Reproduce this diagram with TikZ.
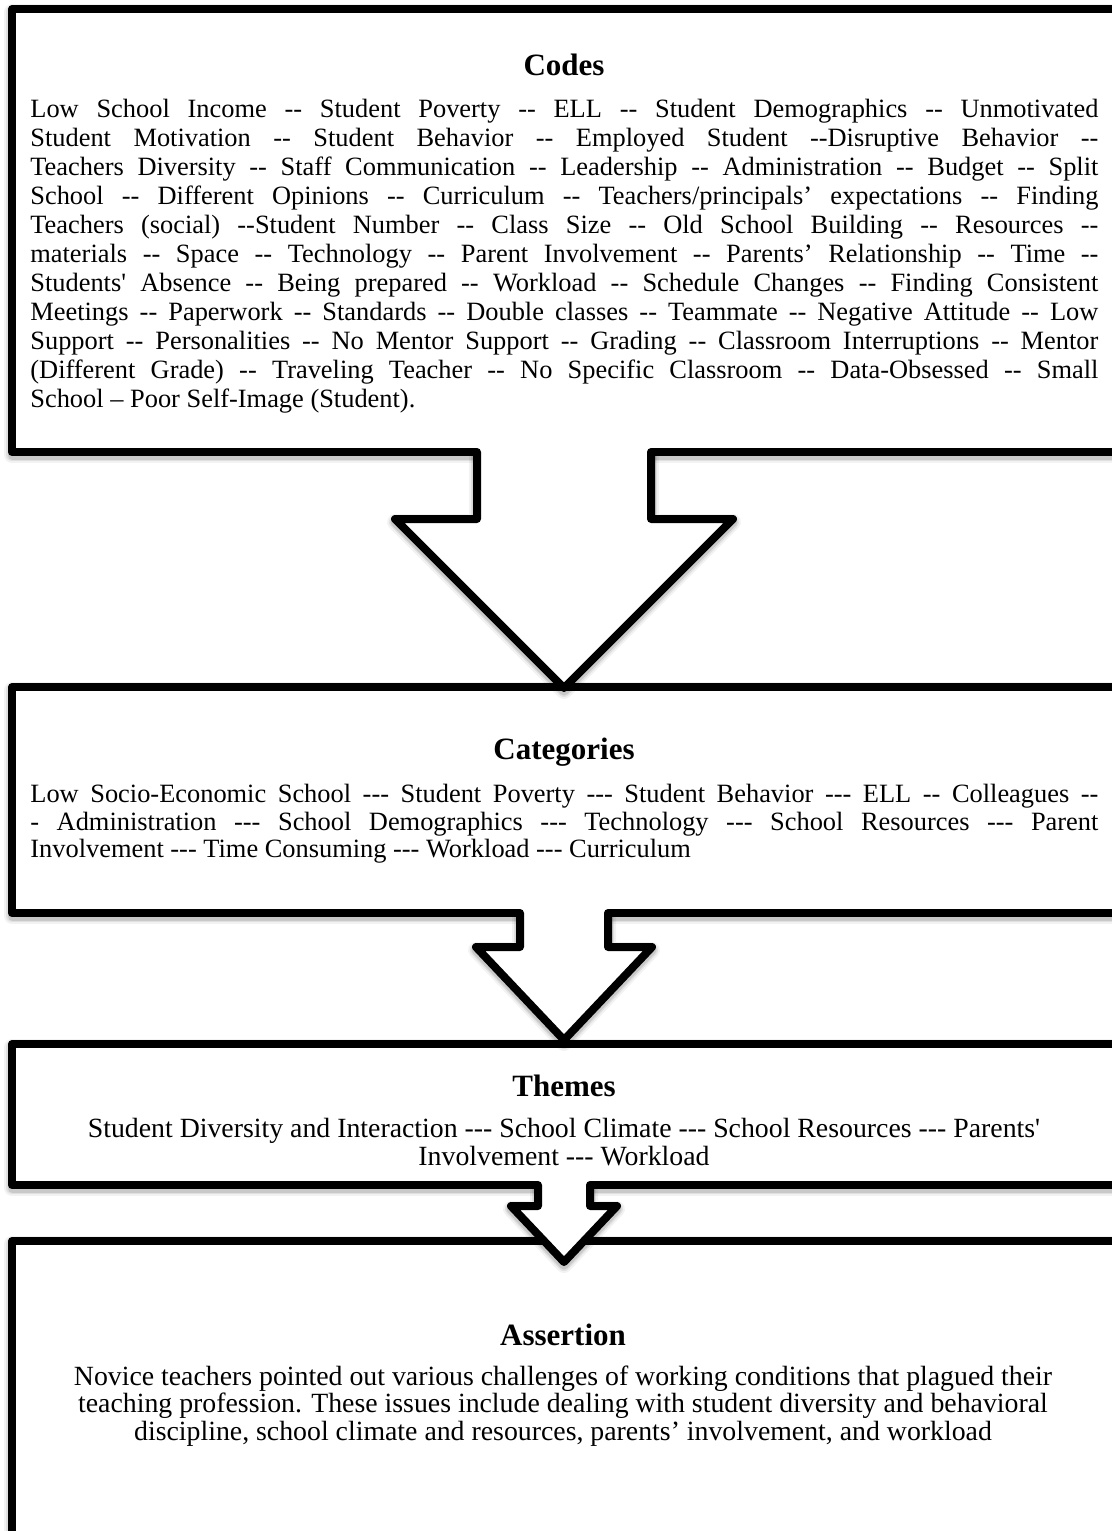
\documentclass[tikz,border=0pt]{standalone}
\usepackage{fontspec}
\setmainfont{Liberation Serif}[Ligatures=TeXOff]
\newcommand\bodyfont{\fontsize{13.9}{15}\selectfont}
\newcommand\listfont{\fontsize{13.2}{15}\selectfont}
\newcommand\headfont{\fontsize{15.5}{17}\selectfont\bfseries}
% a line of text stretched to the full width of the box
\newcommand\jline[1]{\hbox to 534pt{#1}}
% soft drop shadow under a stroked path
\newcommand\haze[1]{%
  \draw[black, opacity=0.05, line width=8pt, yshift=-1.5pt] #1;
  \draw[black, opacity=0.07, line width=6pt, yshift=-1.5pt] #1;
  \draw[black, opacity=0.10, line width=4.5pt, yshift=-1.5pt] #1;}
\begin{document}
\begin{tikzpicture}[x=0.5pt, y=-0.5pt, line join=round,
  frame/.style={draw=black, line width=4pt, fill=white},
  outline/.style={draw=black, line width=4pt, line cap=round},
  heading/.style={anchor=base, inner sep=0pt, font=\headfont},
  jtext/.style={anchor=base west, inner sep=0pt, font=\listfont},
  ctext/.style={anchor=base, inner sep=0pt, font=\bodyfont}]
\useasboundingbox (0,0) rectangle (1112,1531);
\fill[white] (0,0) rectangle (1112,1531);
\clip (0,0) rectangle (1112,1531);

% ---- boxes ----
\haze{(12,9) rectangle (1116,452)}
\draw[frame] (12,9) rectangle (1116,452);
\haze{(12,687) rectangle (1116,913)}
\draw[frame] (12,687) rectangle (1116,913);
\haze{(12,1044) rectangle (1116,1185)}
\draw[frame] (12,1044) rectangle (1116,1185);
\haze{(12,1241) rectangle (1116,1535)}
\draw[frame] (12,1241) rectangle (1116,1535);

% ---- block arrows ----
\haze{(477,452) -- (477,519) -- (395,519) -- (564,688) -- (733,519) -- (651,519) -- (651,452)}
\fill[white] (477,446) -- (477,519) -- (395,519) -- (564,688) -- (733,519) -- (651,519) -- (651,446) -- cycle;
\draw[outline] (477,452) -- (477,519) -- (395,519) -- (564,688) -- (733,519) -- (651,519) -- (651,452);

\haze{(520,913) -- (520,947) -- (476,947) -- (564,1040) -- (652,947) -- (608,947) -- (608,913)}
\fill[white] (520,907) -- (520,947) -- (476,947) -- (564,1040) -- (652,947) -- (608,947) -- (608,907) -- cycle;
\draw[outline] (520,913) -- (520,947) -- (476,947) -- (564,1040) -- (652,947) -- (608,947) -- (608,913);

\haze{(538,1185) -- (538,1206) -- (511,1206) -- (564,1262) -- (617,1206) -- (590,1206) -- (590,1185)}
\fill[white] (538,1179) -- (538,1206) -- (511,1206) -- (564,1262) -- (617,1206) -- (590,1206) -- (590,1179) -- cycle;
\draw[outline] (538,1185) -- (538,1206) -- (511,1206) -- (564,1262) -- (617,1206) -- (590,1206) -- (590,1185);

% ---- Codes ----
\node[heading] (codesT) at (564,75) {Codes};
\node[jtext] (c1) at (30,117) {\jline{Low School Income -- Student Poverty -- ELL -- Student Demographics -- Unmotivated}};
\node[jtext] (c2) at (30,146) {\jline{Student Motivation -- Student Behavior -- Employed Student --Disruptive Behavior --}};
\node[jtext] (c3) at (30,175) {\jline{Teachers Diversity -- Staff Communication -- Leadership -- Administration -- Budget -- Split}};
\node[jtext] (c4) at (30,204) {\jline{School -- Different Opinions -- Curriculum -- Teachers/principals’ expectations -- Finding}};
\node[jtext] (c5) at (30,233) {\jline{Teachers (social) --Student Number -- Class Size -- Old School Building -- Resources --}};
\node[jtext] (c6) at (30,262) {\jline{materials -- Space -- Technology -- Parent Involvement -- Parents’ Relationship -- Time --}};
\node[jtext] (c7) at (30,291) {\jline{Students' Absence -- Being prepared -- Workload -- Schedule Changes -- Finding Consistent}};
\node[jtext] (c8) at (30,320) {\jline{Meetings -- Paperwork -- Standards -- Double classes -- Teammate -- Negative Attitude -- Low}};
\node[jtext] (c9) at (30,349) {\jline{Support -- Personalities -- No Mentor Support -- Grading -- Classroom Interruptions -- Mentor}};
\node[jtext] (c10) at (30,378) {\jline{(Different Grade) -- Traveling Teacher -- No Specific Classroom -- Data-Obsessed -- Small}};
\node[jtext] (c11) at (30,407) {School – Poor Self-Image (Student).};

% ---- Categories ----
\node[heading] (catT) at (564,759) {Categories};
\node[jtext] (k1) at (30,802) {\jline{Low Socio-Economic School --- Student Poverty --- Student Behavior --- ELL -- Colleagues --}};
\node[jtext] (k2) at (30,830) {\jline{- Administration --- School Demographics --- Technology --- School Resources --- Parent}};
\node[jtext] (k3) at (30,857) {Involvement --- Time Consuming --- Workload --- Curriculum};

% ---- Themes ----
\node[heading] (themT) at (564,1096) {Themes};
\node[ctext] (t1) at (564,1137) {Student Diversity and Interaction --- School Climate --- School Resources --- Parents'};
\node[ctext] (t2) at (564,1165) {Involvement --- Workload};

% ---- Assertion ----
\node[heading] (assT) at (563,1345) {Assertion};
\node[ctext] (a1) at (563,1385) {Novice teachers pointed out various challenges of working conditions that plagued their};
\node[ctext] (a2) at (563,1412) {teaching profession. These issues include dealing with student diversity and behavioral};
\node[ctext] (a3) at (563,1440) {discipline, school climate and resources, parents’ involvement, and workload};
\end{tikzpicture}
\end{document}
